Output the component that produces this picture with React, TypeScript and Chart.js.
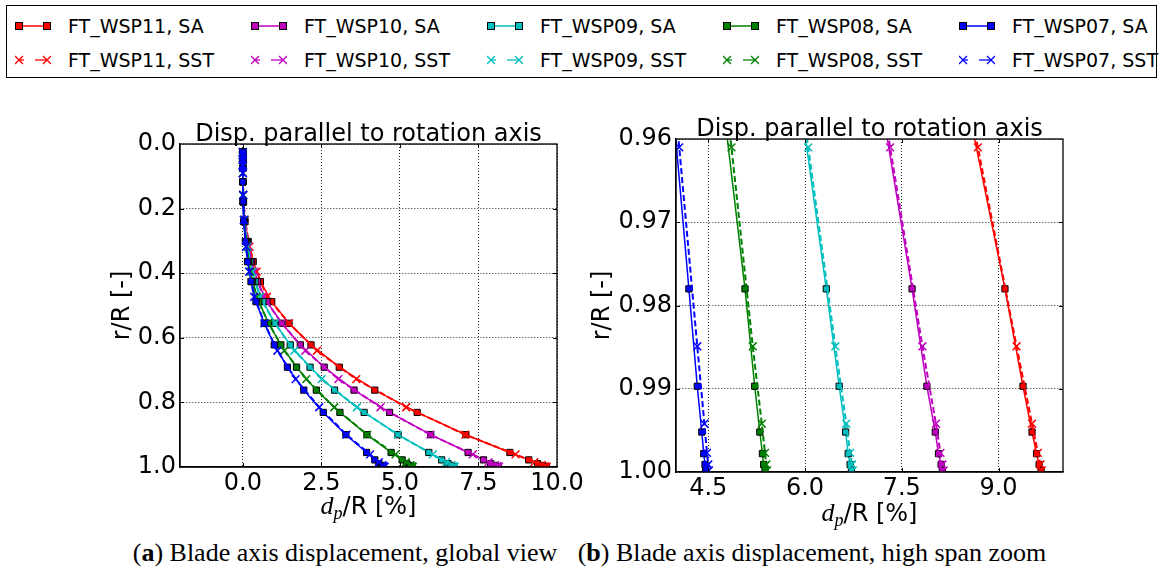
import React, { useEffect, useRef } from "react";
import { Chart, registerables } from "chart.js";

Chart.register(...registerables);

// ---------------- data ----------------
const SERIES_NAMES = ["FT_WSP11", "FT_WSP10", "FT_WSP09", "FT_WSP08", "FT_WSP07"];
const SERIES_COLORS = ["#ff0000", "#bf00bf", "#00bfbf", "#008000", "#0000ff"];

// r/R stations of the SA (Spalart-Allmaras) runs
const SA_R = [0.025, 0.05, 0.075, 0.117, 0.179, 0.24, 0.302, 0.364, 0.426, 0.488, 0.555, 0.622, 0.691, 0.762, 0.831, 0.9, 0.955, 0.978, 0.9897, 0.9952, 0.9978, 0.9991, 0.9998];
const SA_WSP11 = [0, 0, 0, 0.0, 0.02, 0.07, 0.17, 0.33, 0.56, 0.92, 1.47, 2.17, 3.07, 4.2, 5.55, 7.1, 8.5, 9.1, 9.38, 9.52, 9.59, 9.63, 9.66];
const SA_WSP10 = [0, 0, 0, 0.0, 0.02, 0.06, 0.15, 0.28, 0.47, 0.77, 1.24, 1.83, 2.59, 3.54, 4.67, 5.98, 7.17, 7.66, 7.89, 8.02, 8.07, 8.11, 8.13];
const SA_WSP09 = [0, 0, 0, 0.0, 0.01, 0.05, 0.12, 0.23, 0.39, 0.64, 1.02, 1.51, 2.14, 2.92, 3.86, 4.94, 5.92, 6.33, 6.53, 6.63, 6.67, 6.7, 6.72];
const SA_WSP08 = [0, 0, 0, 0.0, 0.01, 0.04, 0.1, 0.18, 0.31, 0.51, 0.82, 1.21, 1.71, 2.34, 3.09, 3.95, 4.72, 5.07, 5.22, 5.3, 5.34, 5.36, 5.38];
const SA_WSP07 = [0, 0, 0, 0.0, 0.01, 0.03, 0.08, 0.15, 0.26, 0.42, 0.68, 1.0, 1.42, 1.94, 2.56, 3.28, 3.94, 4.2, 4.33, 4.4, 4.43, 4.45, 4.46];

// r/R stations of the SST runs
const SST_R = [0.025, 0.035, 0.05, 0.065, 0.09, 0.158, 0.235, 0.318, 0.395, 0.473, 0.555, 0.64, 0.728, 0.815, 0.9, 0.961, 0.9849, 0.9942, 0.9977, 0.9991, 0.9998];
const SST_WSP11 = [0, 0, 0, 0, 0.0, 0.01, 0.07, 0.21, 0.44, 0.77, 1.47, 2.36, 3.61, 5.2, 7.08, 8.68, 9.28, 9.52, 9.61, 9.65, 9.67];
const SST_WSP10 = [0, 0, 0, 0, 0.0, 0.01, 0.06, 0.18, 0.37, 0.65, 1.24, 1.99, 3.04, 4.38, 5.97, 7.32, 7.82, 8.03, 8.1, 8.13, 8.15];
const SST_WSP09 = [0, 0, 0, 0, 0.0, 0.01, 0.05, 0.15, 0.3, 0.54, 1.02, 1.64, 2.51, 3.63, 4.93, 6.05, 6.47, 6.64, 6.7, 6.73, 6.74];
const SST_WSP08 = [0, 0, 0, 0, 0.0, 0.01, 0.04, 0.12, 0.24, 0.43, 0.82, 1.32, 2.02, 2.91, 3.96, 4.86, 5.19, 5.33, 5.38, 5.4, 5.41];
const SST_WSP07 = [0, 0, 0, 0, 0.0, 0.01, 0.03, 0.1, 0.2, 0.36, 0.69, 1.1, 1.68, 2.43, 3.3, 4.05, 4.33, 4.44, 4.48, 4.5, 4.51];

const SA_VALUES = [SA_WSP11, SA_WSP10, SA_WSP09, SA_WSP08, SA_WSP07];
const SST_VALUES = [SST_WSP11, SST_WSP10, SST_WSP09, SST_WSP08, SST_WSP07];

// axes
const LEFT_X_RANGE = [-2, 10];
const LEFT_Y_RANGE = [0, 1];
const LEFT_X_TICKS = [0, 2.5, 5, 7.5, 10];
const LEFT_X_LABELS = ["0.0", "2.5", "5.0", "7.5", "10.0"];
const LEFT_Y_TICKS = [0, 0.2, 0.4, 0.6, 0.8, 1.0];
const LEFT_Y_LABELS = ["0.0", "0.2", "0.4", "0.6", "0.8", "1.0"];

const RIGHT_X_RANGE = [4, 10];
const RIGHT_Y_RANGE = [0.96, 1.0];
const RIGHT_X_TICKS = [4.5, 6, 7.5, 9];
const RIGHT_X_LABELS = ["4.5", "6.0", "7.5", "9.0"];
const RIGHT_Y_TICKS = [0.96, 0.97, 0.98, 0.99, 1.0];
const RIGHT_Y_LABELS = ["0.96", "0.97", "0.98", "0.99", "1.00"];

const PLOT_TITLE = "Disp. parallel to rotation axis";
const Y_LABEL = "r/R [-]";
const CAPTION_A = ["a", " Blade axis displacement, global view"];
const CAPTION_B = ["b", " Blade axis displacement, high span zoom"];

// ---------------- chart helpers ----------------
const SANS = '"DejaVu Sans", sans-serif';

const decorPlugin = {
  id: "decor",
  afterDraw(chart: any, _args: any, o: any) {
    const { ctx, chartArea: a, scales } = chart;
    ctx.save();
    // inward tick marks (matplotlib classic style)
    ctx.strokeStyle = "#000";
    ctx.lineWidth = 1;
    ctx.beginPath();
    o.xTicks.forEach((v: number) => {
      const px = Math.round(scales.x.getPixelForValue(v)) + 0.5;
      if (px <= a.left + 1 || px >= a.right - 1) return;
      ctx.moveTo(px, a.bottom);
      ctx.lineTo(px, a.bottom - 4);
      ctx.moveTo(px, a.top);
      ctx.lineTo(px, a.top + 4);
    });
    o.yTicks.forEach((v: number) => {
      const py = Math.round(scales.y.getPixelForValue(v)) + 0.5;
      if (py <= a.top + 1 || py >= a.bottom - 1) return;
      ctx.moveTo(a.left, py);
      ctx.lineTo(a.left + 4, py);
      ctx.moveTo(a.right, py);
      ctx.lineTo(a.right - 4, py);
    });
    ctx.stroke();
    // frame
    ctx.lineWidth = 1.3;
    ctx.strokeRect(a.left, a.top, a.right - a.left, a.bottom - a.top);
    // title
    ctx.fillStyle = "#000";
    ctx.font = `24px ${SANS}`;
    ctx.textAlign = "center";
    ctx.textBaseline = "alphabetic";
    ctx.fillText(o.title, (a.left + a.right) / 2, a.top - 3);
    // x label: d_p/R [%]
    const parts = [
      { t: "d", f: 'italic 26px "Liberation Serif", serif', dy: 0 },
      { t: "p", f: 'italic 18px "Liberation Serif", serif', dy: 5 },
      { t: "/R [%]", f: `24px ${SANS}`, dy: 0 },
    ];
    let total = 0;
    const widths = parts.map((p) => {
      ctx.font = p.f;
      const w = ctx.measureText(p.t).width;
      total += w;
      return w;
    });
    let x = (a.left + a.right) / 2 - total / 2;
    const by = a.bottom + o.xLabelDy;
    ctx.textAlign = "left";
    parts.forEach((p, i) => {
      ctx.font = p.f;
      ctx.fillText(p.t, x, by + p.dy);
      x += widths[i];
    });
    // y label
    ctx.font = `24px ${SANS}`;
    ctx.textAlign = "center";
    ctx.translate(o.yLabelX, (a.top + a.bottom) / 2);
    ctx.rotate(-Math.PI / 2);
    ctx.fillText(o.yLabel, 0, 0);
    ctx.restore();
  },
};

function makeConfig(p: any) {
  const datasets: any[] = [];
  SERIES_NAMES.forEach((name, i) => {
    const color = SERIES_COLORS[i];
    datasets.push({
      label: `${name}, SA`,
      data: SA_R.map((r, k) => ({ x: SA_VALUES[i][k], y: r })),
      order: 20 - 2 * i,
      showLine: true,
      borderColor: color,
      backgroundColor: color,
      borderWidth: 1.5,
      pointStyle: "rect",
      pointRadius: 4.4,
      pointHoverRadius: 4.4,
      pointBackgroundColor: color,
      pointBorderColor: "#000",
      pointBorderWidth: 1,
      tension: 0,
      clip: 0,
    });
    datasets.push({
      label: `${name}, SST`,
      data: SST_R.map((r, k) => ({ x: SST_VALUES[i][k], y: r })),
      order: 19 - 2 * i,
      showLine: true,
      borderColor: color,
      backgroundColor: color,
      borderWidth: 2,
      borderDash: [6, 3],
      pointStyle: "crossRot",
      pointRadius: 5.5,
      pointHoverRadius: 5.5,
      pointBorderColor: color,
      pointBorderWidth: 1.5,
      tension: 0,
      clip: 0,
    });
  });

  const tickFont = { family: SANS, size: 24 };
  const grid = { color: "rgba(0,0,0,0.85)", lineWidth: 1, drawTicks: false };
  const border = { display: true, color: "#000", width: 1.3, dash: [1, 2] };

  return {
    type: "scatter",
    data: { datasets },
    plugins: [decorPlugin],
    options: {
      responsive: false,
      animation: false,
      events: [],
      layout: { padding: { left: 0, top: p.padTop, right: p.padRight, bottom: 0 } },
      plugins: {
        legend: { display: false },
        tooltip: { enabled: false },
        title: { display: false },
        decor: {
          title: PLOT_TITLE,
          yLabel: Y_LABEL,
          yLabelX: p.yLabelX,
          xLabelDy: p.xLabelDy,
          xTicks: p.xTicks,
          yTicks: p.yTicks,
        },
      },
      scales: {
        x: {
          type: "linear",
          position: "bottom",
          min: p.xRange[0],
          max: p.xRange[1],
          afterBuildTicks: (s: any) => {
            s.ticks = p.xTicks.map((v: number) => ({ value: v }));
          },
          afterFit: (s: any) => {
            s.height = p.xAxisH;
          },
          ticks: {
            autoSkip: false,
            maxRotation: 0,
            padding: 2,
            color: "#000",
            font: tickFont,
            callback: (v: number) => {
              const i = p.xTicks.indexOf(v);
              return i >= 0 ? p.xLabels[i] : "";
            },
          },
          grid,
          border,
        },
        y: {
          type: "linear",
          position: "left",
          reverse: true,
          min: p.yRange[0],
          max: p.yRange[1],
          afterBuildTicks: (s: any) => {
            s.ticks = p.yTicks.map((v: number) => ({ value: v }));
          },
          afterFit: (s: any) => {
            s.width = p.yAxisW;
          },
          ticks: {
            autoSkip: false,
            padding: 4,
            color: "#000",
            font: tickFont,
            callback: (v: number) => {
              const i = p.yTicks.indexOf(v);
              return i >= 0 ? p.yLabels[i] : "";
            },
          },
          grid,
          border,
        },
      },
    },
  };
}

// canvas placement (page coordinates)
const LEFT_CANVAS = { left: 0, top: 90, width: 600, height: 440 };
const RIGHT_CANVAS = { left: 560, top: 90, width: 603, height: 440 };

const LEFT_PARAMS = {
  xRange: LEFT_X_RANGE,
  yRange: LEFT_Y_RANGE,
  xTicks: LEFT_X_TICKS,
  xLabels: LEFT_X_LABELS,
  yTicks: LEFT_Y_TICKS,
  yLabels: LEFT_Y_LABELS,
  padTop: 54,
  padRight: 43,
  yAxisW: 180,
  xAxisH: 63,
  yLabelX: 129,
  xLabelDy: 47,
};
const RIGHT_PARAMS = {
  xRange: RIGHT_X_RANGE,
  yRange: RIGHT_Y_RANGE,
  xTicks: RIGHT_X_TICKS,
  xLabels: RIGHT_X_LABELS,
  yTicks: RIGHT_Y_TICKS,
  yLabels: RIGHT_Y_LABELS,
  padTop: 49,
  padRight: 100,
  yAxisW: 116,
  xAxisH: 58,
  yLabelX: 49,
  xLabelDy: 49,
};

// ---------------- legend ----------------
function LegendMarker({ kind, color }: { kind: "SA" | "SST"; color: string }) {
  if (kind === "SA") {
    return (
      <svg width={36} height={14} style={{ display: "block" }}>
        <line x1={4} y1={7} x2={32} y2={7} stroke={color} strokeWidth={1.5} />
        <rect x={0.5} y={3.5} width={7} height={7} fill={color} stroke="#000" strokeWidth={1} />
        <rect x={28.5} y={3.5} width={7} height={7} fill={color} stroke="#000" strokeWidth={1} />
      </svg>
    );
  }
  const cross = (cx: number) => (
    <g stroke={color} strokeWidth={1.3}>
      <line x1={cx - 4} y1={3} x2={cx + 4} y2={11} />
      <line x1={cx - 4} y1={11} x2={cx + 4} y2={3} />
    </g>
  );
  return (
    <svg width={36} height={14} style={{ display: "block" }}>
      <line x1={4} y1={7} x2={9} y2={7} stroke={color} strokeWidth={1.3} />
      <line x1={20} y1={7} x2={32} y2={7} stroke={color} strokeWidth={1.3} />
      {cross(4)}
      {cross(32)}
    </svg>
  );
}

const LEGEND_COL_X = [68, 304, 540, 776, 1012];
const LEGEND_ROW_Y = [26, 60];

function Legend() {
  const items: any[] = [];
  SERIES_NAMES.forEach((name, i) => {
    (["SA", "SST"] as const).forEach((kind, row) => {
      const tx = LEGEND_COL_X[i];
      const cy = LEGEND_ROW_Y[row];
      items.push(
        <div key={`m${i}${row}`} style={{ position: "absolute", left: tx - 53, top: cy - 7 }}>
          <LegendMarker kind={kind} color={SERIES_COLORS[i]} />
        </div>
      );
      items.push(
        <div
          key={`t${i}${row}`}
          style={{
            position: "absolute",
            left: tx,
            top: cy - 12,
            height: 24,
            lineHeight: "24px",
            fontFamily: SANS,
            fontSize: 19,
            whiteSpace: "nowrap",
            color: "#000",
          }}
        >
          {`${name}, ${kind}`}
        </div>
      );
    });
  });
  return (
    <>
      <div
        style={{
          position: "absolute",
          left: 6,
          top: 5,
          width: 1151,
          height: 73,
          boxSizing: "border-box",
          border: "1px solid #000",
        }}
      />
      {items}
    </>
  );
}

function Caption({ parts, center }: { parts: string[]; center: number }) {
  return (
    <div
      style={{
        position: "absolute",
        left: center - 300,
        width: 600,
        top: 539,
        textAlign: "center",
        fontFamily: '"Liberation Serif", serif',
        fontSize: 26,
        lineHeight: "28px",
        color: "#000",
        whiteSpace: "nowrap",
      }}
    >
      (<b>{parts[0]}</b>){parts[1]}
    </div>
  );
}

export default function App() {
  const leftRef = useRef<HTMLCanvasElement>(null);
  const rightRef = useRef<HTMLCanvasElement>(null);

  useEffect(() => {
    const c1 = new Chart(leftRef.current as HTMLCanvasElement, makeConfig(LEFT_PARAMS) as any);
    const c2 = new Chart(rightRef.current as HTMLCanvasElement, makeConfig(RIGHT_PARAMS) as any);
    return () => {
      c1.destroy();
      c2.destroy();
    };
  }, []);

  const canvasStyle = (c: any): React.CSSProperties => ({
    position: "absolute",
    left: c.left,
    top: c.top,
    width: c.width,
    height: c.height,
  });

  return (
    <div style={{ position: "absolute", left: 0, top: 0, width: 1163, height: 571, background: "#fff", overflow: "hidden" }}>
      <Legend />
      <canvas ref={leftRef} width={LEFT_CANVAS.width} height={LEFT_CANVAS.height} style={canvasStyle(LEFT_CANVAS)} />
      <canvas ref={rightRef} width={RIGHT_CANVAS.width} height={RIGHT_CANVAS.height} style={canvasStyle(RIGHT_CANVAS)} />
      <Caption parts={CAPTION_A} center={345} />
      <Caption parts={CAPTION_B} center={812} />
    </div>
  );
}
